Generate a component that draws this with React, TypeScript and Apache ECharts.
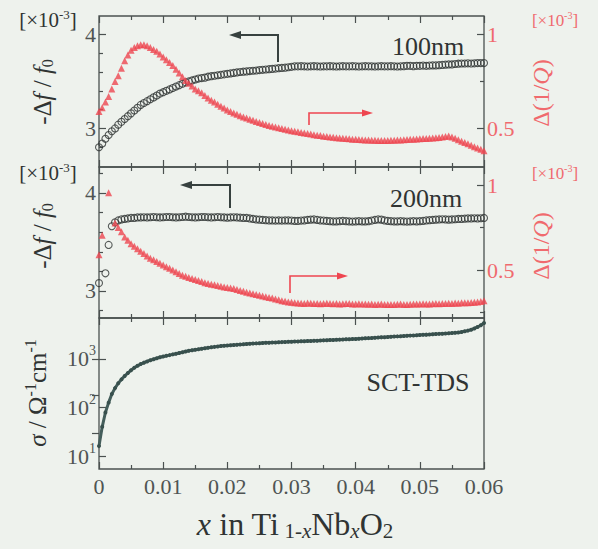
import React, { useEffect, useRef } from "react";
import * as echarts from "echarts";

// x = i * X_STEP (Nb content)
const X_STEP = 0.0005;
const X_TICK_LABELS = ["0", "0.01", "0.02", "0.03", "0.04", "0.05", "0.06"];

// 100 nm : -Δf/f0 (×10^-3), open circles, left axis
const SHIFT_100 = [
  2.80, 2.84, 2.89, 2.93, 2.97, 3.00, 3.04, 3.07, 3.10, 3.13,
  3.16, 3.19, 3.22, 3.25, 3.27, 3.29, 3.31, 3.33, 3.35, 3.37,
  3.385, 3.40, 3.415, 3.43, 3.445, 3.46, 3.475, 3.49, 3.50, 3.51,
  3.52, 3.53, 3.535, 3.54, 3.55, 3.555, 3.56, 3.565, 3.57, 3.575,
  3.58, 3.585, 3.59, 3.595, 3.60, 3.603, 3.606, 3.61, 3.613, 3.616,
  3.62, 3.623, 3.626, 3.63, 3.633, 3.636, 3.64, 3.643, 3.646, 3.65,
  3.655, 3.66, 3.66, 3.662, 3.66, 3.658, 3.66, 3.662, 3.66, 3.658,
  3.66, 3.66, 3.662, 3.66, 3.658, 3.66, 3.662, 3.66, 3.66, 3.662,
  3.66, 3.658, 3.66, 3.662, 3.66, 3.66, 3.658, 3.66, 3.662, 3.66,
  3.66, 3.662, 3.66, 3.658, 3.66, 3.662, 3.665, 3.665, 3.662, 3.665,
  3.665, 3.668, 3.665, 3.668, 3.67, 3.67, 3.672, 3.675, 3.678, 3.68,
  3.68, 3.685, 3.688, 3.69, 3.69, 3.692, 3.69, 3.692, 3.695, 3.695,
  3.695,
];

// 100 nm : Δ(1/Q) (×10^-3), red triangles, right axis
const DAMP_100 = [
  0.59, 0.61, 0.64, 0.67, 0.71, 0.75, 0.78, 0.82, 0.86, 0.89,
  0.915, 0.93, 0.94, 0.945, 0.945, 0.94, 0.93, 0.92, 0.91, 0.895,
  0.88, 0.865, 0.85, 0.835, 0.815, 0.795, 0.775, 0.755, 0.74, 0.725,
  0.71, 0.70, 0.69, 0.675, 0.662, 0.65, 0.64, 0.628, 0.618, 0.608,
  0.598, 0.59, 0.582, 0.575, 0.568, 0.561, 0.555, 0.549, 0.543, 0.537,
  0.531, 0.526, 0.521, 0.516, 0.512, 0.508, 0.504, 0.5, 0.496, 0.492,
  0.488, 0.485, 0.482, 0.479, 0.476, 0.473, 0.47, 0.467, 0.464, 0.462,
  0.459, 0.457, 0.455, 0.453, 0.451, 0.449, 0.448, 0.446, 0.445, 0.443,
  0.442, 0.441, 0.44, 0.439, 0.438, 0.437, 0.437, 0.436, 0.436, 0.436,
  0.436, 0.437, 0.437, 0.438, 0.439, 0.44, 0.441, 0.442, 0.443, 0.444,
  0.445, 0.446, 0.447, 0.448, 0.449, 0.45, 0.452, 0.454, 0.457, 0.46,
  0.455, 0.448, 0.44, 0.432, 0.425, 0.418, 0.41, 0.403, 0.396, 0.389,
  0.382,
];

// 200 nm : -Δf/f0 (×10^-3)
const SHIFT_200 = [
  3.08, null, 3.18, 3.47, 3.66, 3.70, 3.72, 3.73, 3.735, 3.74,
  3.745, 3.745, 3.75, 3.75, 3.752, 3.75, 3.752, 3.755, 3.752, 3.75,
  3.752, 3.755, 3.755, 3.752, 3.75, 3.752, 3.755, 3.758, 3.755, 3.752,
  3.75, 3.752, 3.755, 3.755, 3.752, 3.75, 3.752, 3.755, 3.752, 3.75,
  3.748, 3.75, 3.752, 3.75, 3.748, 3.745, 3.745, 3.74, 3.735, 3.73,
  3.728, 3.725, 3.722, 3.72, 3.72, 3.718, 3.72, 3.718, 3.72, 3.72,
  3.718, 3.715, 3.715, 3.718, 3.72, 3.725, 3.728, 3.73, 3.725, 3.72,
  3.718, 3.715, 3.712, 3.71, 3.71, 3.712, 3.715, 3.712, 3.71, 3.708,
  3.71, 3.712, 3.71, 3.71, 3.712, 3.718, 3.725, 3.73, 3.728, 3.72,
  3.715, 3.712, 3.71, 3.71, 3.712, 3.71, 3.708, 3.71, 3.712, 3.71,
  3.712, 3.715, 3.72, 3.722, 3.725, 3.728, 3.73, 3.732, 3.73, 3.728,
  3.73, 3.732, 3.735, 3.735, 3.738, 3.74, 3.74, 3.742, 3.74, 3.742,
  3.745,
];

// 200 nm : Δ(1/Q) (×10^-3)
const DAMP_200 = [
  0.59, 0.705, null, 0.955, null, 0.776, 0.75, 0.725, 0.695, 0.675,
  0.655, 0.64, 0.625, 0.61, 0.597, 0.583, 0.57, 0.56, 0.55, 0.54,
  0.53, 0.52, 0.51, 0.50, 0.49, 0.48, 0.47, 0.463, 0.456, 0.45,
  0.444, 0.438, 0.432, 0.426, 0.421, 0.417, 0.413, 0.409, 0.405, 0.401,
  0.398, 0.395, 0.392, 0.386, 0.38, 0.375, 0.37, 0.365, 0.36, 0.356,
  0.352, 0.347, 0.343, 0.339, 0.335, 0.33, 0.325, 0.32, 0.316, 0.312,
  0.31, 0.308, 0.306, 0.305, 0.304, 0.306, 0.305, 0.303, 0.304, 0.302,
  0.303, 0.305, 0.304, 0.302, 0.303, 0.301, 0.302, 0.304, 0.303, 0.301,
  0.3, 0.302, 0.301, 0.3, 0.299, 0.3, 0.298, 0.299, 0.3, 0.298,
  0.297, 0.298, 0.297, 0.299, 0.3, 0.298, 0.297, 0.299, 0.3, 0.301,
  0.3, 0.302, 0.301, 0.3, 0.302, 0.303, 0.302, 0.304, 0.303, 0.305,
  0.304, 0.306, 0.305, 0.307, 0.308, 0.307, 0.309, 0.31, 0.312, 0.315,
  0.32,
];

// SCT-TDS conductivity σ (Ω^-1 cm^-1)
const SIGMA = [
  16, 40, 79, 126, 190, 251, 316, 380, 447, 513,
  589, 661, 724, 785, 841, 891, 944, 989, 1035, 1084,
  1122, 1161, 1202, 1245, 1288, 1334, 1380, 1429, 1479, 1514,
  1549, 1585, 1622, 1660, 1698, 1738, 1778, 1811, 1845, 1879,
  1905, 1928, 1950, 1972, 1995, 2018, 2042, 2061, 2080, 2099,
  2118, 2138, 2153, 2168, 2183, 2198, 2213, 2228, 2244, 2259,
  2275, 2291, 2301, 2317, 2328, 2344, 2355, 2371, 2388, 2404,
  2421, 2438, 2455, 2472, 2489, 2506, 2523, 2541, 2559, 2576,
  2594, 2618, 2642, 2667, 2692, 2716, 2742, 2767, 2793, 2818,
  2844, 2871, 2897, 2924, 2951, 2979, 3006, 3034, 3062, 3090,
  3119, 3148, 3177, 3206, 3236, 3266, 3296, 3327, 3357, 3388,
  3420, 3467, 3532, 3614, 3715, 3846, 4027, 4266, 4571, 4955,
  5495,
];

const SHIFT_LABELS = [3, 4];
const SHIFT_MINOR_100 = [2.8, 3.2, 3.4, 3.6, 3.8];
const SHIFT_MINOR_200 = [2.8, 3.2, 3.4, 3.6, 3.8, 4.2];
const DAMP_LABELS = [0.5, 1];
const DAMP_MINOR_100 = [0.75];
const DAMP_MINOR_200 = [0.25, 0.75];
const SIGMA_LABELS = [10, 100, 1000];
const SIGMA_RIGHT_TICKS = [30, 180, 1000];

const BG = "#eef2ed";
const AX = "#4b5150";
const TXT = "#303433";
const LBL = "#4f5453";
const RED = "#ee4650";
const RED_TXT = "#f06a6e";
const SLATE = "#445e5b";
const FONT = "serif";

const toPairs = (vals: (number | null)[]) =>
  vals
    .map((v, i) => (v == null ? null : [+(i * X_STEP).toFixed(4), v]))
    .filter((p) => p !== null);

const LEFT = 99;
const WIDTH = 385;
const PANEL_H = 151;
const TOPS = [16, 167, 318];

function xAxes(g: number) {
  const base = {
    gridIndex: g,
    type: "value",
    min: 0,
    max: 0.06,
    interval: 0.01,
    axisLine: { show: false },
    splitLine: { show: false },
    axisTick: { show: true, inside: true, length: 7, lineStyle: { color: AX, width: 1.2 } },
    minorTick: { show: true, splitNumber: 2, length: 4, lineStyle: { color: AX, width: 1.2 } },
  };
  return [
    {
      ...base,
      position: "bottom",
      axisLabel: {
        show: g === 2,
        color: LBL,
        fontSize: 22,
        fontFamily: FONT,
        margin: 6,
        formatter: (v: number) => X_TICK_LABELS[Math.round(v * 100)] ?? "",
      },
    },
    { ...base, position: "top", axisLabel: { show: false } },
  ];
}

function linY(g: number, pos: string, min: number, max: number, major: number[], minor: number[], color: string) {
  const base = {
    gridIndex: g,
    type: "value",
    min,
    max,
    position: pos,
    axisLine: { show: false },
    splitLine: { show: false },
  };
  return [
    {
      ...base,
      axisTick: { show: true, inside: true, length: 7, customValues: major, lineStyle: { color: AX, width: 1.2 } },
      axisLabel: {
        show: true,
        customValues: major,
        color,
        fontSize: 22,
        fontFamily: FONT,
        margin: 3,
        formatter: (v: number) => String(v),
      },
    },
    {
      ...base,
      axisTick: { show: true, inside: true, length: 4, customValues: minor, lineStyle: { color: AX, width: 1.2 } },
      axisLabel: { show: false },
    },
  ];
}

const SUP: Record<number, string> = { 10: "1", 100: "2", 1000: "3" };

function App() {
  const ref = useRef<HTMLDivElement>(null);
  useEffect(() => {
    document.body.style.margin = "0";
    document.body.style.background = BG;
    const chart = echarts.init(ref.current!, null, { renderer: "svg" });

    const grid = TOPS.map((t) => ({
      left: LEFT,
      top: t,
      width: WIDTH,
      height: PANEL_H,
      show: true,
      borderColor: AX,
      borderWidth: 1.3,
      backgroundColor: "transparent",
    }));

    const yAxis: any[] = [
      ...linY(0, "left", 2.59, 4.195, SHIFT_LABELS, SHIFT_MINOR_100, LBL),
      ...linY(0, "right", 0.295, 1.0975, DAMP_LABELS, DAMP_MINOR_100, RED_TXT),
      ...linY(1, "left", 2.724, 4.265, SHIFT_LABELS, SHIFT_MINOR_200, LBL),
      ...linY(1, "right", 0.218, 1.106, DAMP_LABELS, DAMP_MINOR_200, RED_TXT),
      {
        gridIndex: 2,
        type: "log",
        logBase: 10,
        min: 5.4,
        max: 7000,
        position: "left",
        axisLine: { show: false },
        splitLine: { show: false },
        minorTick: { show: false },
        axisTick: { show: true, inside: true, length: 7, customValues: SIGMA_LABELS, lineStyle: { color: AX, width: 1.2 } },
        axisLabel: {
          show: true,
          customValues: SIGMA_LABELS,
          margin: 3,
          formatter: (v: number) => `{b|10}{s|${SUP[Math.round(v)] ?? ""}}`,
          rich: {
            b: { fontSize: 22, fontFamily: FONT, color: LBL },
            s: { fontSize: 14, fontFamily: FONT, color: LBL, padding: [0, 0, 16, 0] },
          },
        },
      },
      {
        gridIndex: 2,
        type: "log",
        logBase: 10,
        min: 5.4,
        max: 7000,
        position: "right",
        axisLine: { show: false },
        splitLine: { show: false },
        minorTick: { show: false },
        axisTick: { show: true, inside: true, length: 7, customValues: SIGMA_RIGHT_TICKS, lineStyle: { color: AX, width: 1.2 } },
        axisLabel: { show: false },
      },
    ];

    const circleStyle = { color: "rgba(0,0,0,0)", borderColor: "#2e3332", borderWidth: 1.1 };
    const triStyle = { color: RED };

    const series: any[] = [
      { type: "scatter", xAxisIndex: 0, yAxisIndex: 0, data: toPairs(SHIFT_100), symbol: "circle", symbolSize: 7, itemStyle: circleStyle },
      { type: "scatter", xAxisIndex: 0, yAxisIndex: 2, data: toPairs(DAMP_100), symbol: "triangle", symbolSize: 7, itemStyle: triStyle },
      { type: "scatter", xAxisIndex: 2, yAxisIndex: 4, data: toPairs(SHIFT_200), symbol: "circle", symbolSize: 7, itemStyle: circleStyle },
      { type: "scatter", xAxisIndex: 2, yAxisIndex: 6, data: toPairs(DAMP_200), symbol: "triangle", symbolSize: 7, itemStyle: triStyle },
      {
        type: "line",
        xAxisIndex: 4,
        yAxisIndex: 8,
        data: toPairs(SIGMA),
        symbol: "circle",
        symbolSize: 4,
        showSymbol: true,
        lineStyle: { color: SLATE, width: 3 },
        itemStyle: { color: "#38504d" },
      },
    ];

    const bracket = (x: number, y: number, color: string, size: number) => ({
      type: "text",
      x,
      y,
      style: {
        text: "[×10{s|-3}]",
        align: "center",
        verticalAlign: "middle",
        fill: color,
        fontSize: size,
        fontFamily: FONT,
        rich: { s: { fontSize: Math.round(size * 0.6), fill: color, fontFamily: FONT, padding: [0, 0, Math.round(size * 0.55), 0] } },
      },
    });

    const shiftLabel = (x: number, y: number) => ({
      type: "text",
      x,
      y,
      rotation: Math.PI / 2,
      style: {
        text: "-Δ{i|f} / {i|f}{sub|0}",
        align: "center",
        verticalAlign: "middle",
        fill: TXT,
        fontSize: 25,
        fontFamily: FONT,
        rich: {
          i: { fontSize: 25, fontStyle: "italic", fill: TXT, fontFamily: FONT },
          sub: { fontSize: 16, fill: TXT, fontFamily: FONT, padding: [10, 0, 0, 0] },
        },
      },
    });

    const dampLabel = (x: number, y: number) => ({
      type: "text",
      x,
      y,
      rotation: Math.PI / 2,
      style: {
        text: "Δ(1/{i|Q})",
        align: "center",
        verticalAlign: "middle",
        fill: RED_TXT,
        fontSize: 24,
        fontFamily: FONT,
        rich: { i: { fontSize: 24, fontStyle: "italic", fill: RED_TXT, fontFamily: FONT } },
      },
    });

    const leftArrow = (x0: number, x1: number, y: number, yDown: number) => [
      { type: "polyline", shape: { points: [[x0 + 8, y], [x1, y], [x1, yDown]] }, style: { stroke: "#37413f", lineWidth: 2, fill: "none" } },
      { type: "polygon", shape: { points: [[x0, y], [x0 + 12, y - 4], [x0 + 12, y + 4]] }, style: { fill: "#37413f" } },
    ];
    const rightArrow = (x0: number, yUp0: number, y: number, x1: number) => [
      { type: "polyline", shape: { points: [[x0, yUp0], [x0, y], [x1 - 8, y]] }, style: { stroke: RED, lineWidth: 1.6, fill: "none" } },
      { type: "polygon", shape: { points: [[x1, y], [x1 - 11, y - 3.5], [x1 - 11, y + 3.5]] }, style: { fill: RED } },
    ];

    const plainText = (x: number, y: number, text: string, size: number) => ({
      type: "text",
      x,
      y,
      style: { text, align: "center", verticalAlign: "middle", fill: TXT, fontSize: size, fontFamily: FONT },
    });

    const graphic: any[] = [
      bracket(48, 20, TXT, 21),
      bracket(48, 173, TXT, 21),
      bracket(555, 20, RED_TXT, 17),
      bracket(555, 173, RED_TXT, 17),
      shiftLabel(42, 92),
      shiftLabel(42, 236),
      dampLabel(541, 93),
      dampLabel(541, 246),
      plainText(428, 46, "100nm", 26),
      plainText(426, 198, "200nm", 26),
      plainText(418, 382, "SCT-TDS", 26),
      ...leftArrow(229, 278, 35, 62),
      ...rightArrow(309, 125, 113, 373),
      ...leftArrow(180, 230, 185, 208),
      ...rightArrow(290, 293, 276, 348),
      {
        type: "text",
        x: 37,
        y: 393,
        rotation: Math.PI / 2,
        style: {
          text: "{i|σ} / Ω{s|-1}cm{s|-1}",
          align: "center",
          verticalAlign: "middle",
          fill: TXT,
          fontSize: 25,
          fontFamily: FONT,
          rich: {
            i: { fontSize: 25, fontStyle: "italic", fill: TXT, fontFamily: FONT },
            s: { fontSize: 16, fill: TXT, fontFamily: FONT, padding: [0, 0, 14, 0] },
          },
        },
      },
      {
        type: "text",
        x: 295,
        y: 524,
        style: {
          text: "{i|x} in Ti{sub| 1-}{subi|x}Nb{subi|x}O{sub|2}",
          align: "center",
          verticalAlign: "middle",
          fill: TXT,
          fontSize: 32,
          fontFamily: FONT,
          rich: {
            i: { fontSize: 32, fontStyle: "italic", fill: TXT, fontFamily: FONT },
            sub: { fontSize: 21, fill: TXT, fontFamily: FONT, padding: [14, 0, 0, 0] },
            subi: { fontSize: 21, fontStyle: "italic", fill: TXT, fontFamily: FONT, padding: [14, 0, 0, 0] },
          },
        },
      },
    ];

    chart.setOption({
      animation: false,
      backgroundColor: BG,
      grid,
      xAxis: [...xAxes(0), ...xAxes(1), ...xAxes(2)],
      yAxis,
      series,
      graphic,
    });
    return () => chart.dispose();
  }, []);
  return <div ref={ref} style={{ width: 598, height: 549, background: BG }} />;
}

export default App;
